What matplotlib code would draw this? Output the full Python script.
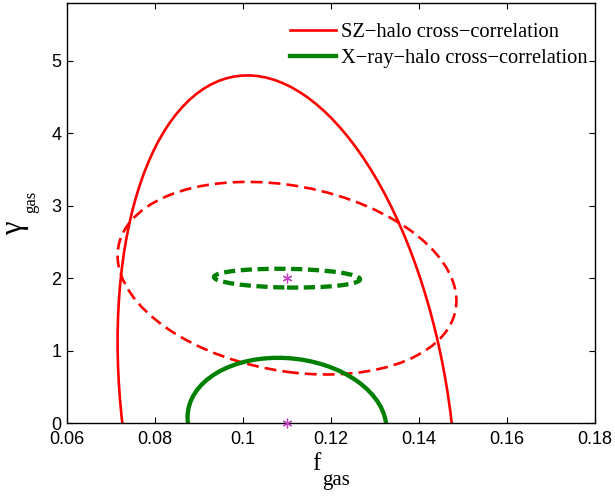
import numpy as np
import matplotlib
matplotlib.use('Agg')
import matplotlib.pyplot as plt
from matplotlib.patches import Ellipse
from matplotlib.transforms import Affine2D

# fisher ellipses: centre (f_gas, gamma_gas), sigma_f, sigma_gamma, correlation
names = ['SZ-halo cross-correlation', 'X-ray-halo cross-correlation']
cx = [0.11, 0.11, 0.11, 0.11]
cy = [0.0, 2.0, 0.0, 2.0]
sig_f = [0.0385, 0.0385, 0.0226, 0.0166]
sig_g = [4.8, 1.33, 0.9, 0.13]
rho = [-0.234, -0.234, -0.09, -0.12]
colors = ['red', 'red', 'green', 'green']
styles = ['-', '--', '-', '--']
widths = [1.9, 1.9, 3.1, 3.1]
fid_f = [0.11, 0.11]
fid_g = [2.0, 0.0]

W, H = 615, 496
fig = plt.figure(figsize=(W / 100, H / 100), dpi=100)
ax = fig.add_axes([67 / W, 1 - 423 / H, 528 / W, 420 / H])

for i in range(len(cx)):
    l00 = sig_f[i]
    l10 = rho[i] * sig_g[i]
    l11 = sig_g[i] * np.sqrt(1 - rho[i] ** 2)
    m = Affine2D(np.array([[l00, 0, cx[i]], [l10, l11, cy[i]], [0, 0, 1]]))
    e = Ellipse((0, 0), 2, 2, fill=False, edgecolor=colors[i],
                linewidth=widths[i], transform=m + ax.transData)
    if styles[i] == '--':
        if colors[i] == 'red':
            e.set_linestyle((0, (4.5, 2.3)))
        else:
            e.set_linestyle((0, (2.6, 1.3)))
    ax.add_patch(e)

ax.plot(fid_f, fid_g, linestyle='none', marker=(6, 2, 0), color='#c040c0',
        markersize=7, markeredgewidth=0.9, clip_on=False, zorder=5)

ax.plot([], [], color='red', lw=1.9, label=names[0].replace('-', '\u2212'))
ax.plot([], [], color='green', lw=3.1, label=names[1].replace('-', '\u2212'))
ax.legend(loc='upper right', frameon=False, prop={'family': 'Liberation Serif', 'size': 14.8},
          handlelength=2.25, handletextpad=0.25, labelspacing=0.3,
          borderpad=0.2, borderaxespad=0.15, bbox_to_anchor=(1.0, 0.97))

ax.set_xlim(0.06, 0.18)
ax.set_ylim(0, 5.8)
ax.set_xticks([0.06, 0.08, 0.1, 0.12, 0.14, 0.16, 0.18])
ax.set_xticklabels(['0.06', '0.08', '0.1', '0.12', '0.14', '0.16', '0.18'])
ax.set_yticks([0, 1, 2, 3, 4, 5])
ax.tick_params(direction='in', top=True, right=True, length=4, width=0.8,
               labelsize=13, pad=6)
ax.tick_params(axis='y', pad=4)
for lab in ax.get_xticklabels() + ax.get_yticklabels():
    lab.set_family('Liberation Sans')
for s in ax.spines.values():
    s.set_linewidth(1.0)

# axis labels drawn piecewise to get the low-hanging subscripts
serif = 'Liberation Serif'
fig.text(312 / W, 1 - 470 / H, 'f', family=serif, fontsize=18, ha='left', va='baseline')
fig.text(322 / W, 1 - 485 / H, 'gas', family=serif, fontsize=15, ha='left', va='baseline')
fig.text(22 / W, 1 - 235 / H, '\u03b3', family=serif, fontsize=22, rotation=90,
         rotation_mode='anchor', ha='left', va='baseline')
fig.text(35 / W, 1 - 213 / H, 'gas', family=serif, fontsize=12, rotation=90,
         rotation_mode='anchor', ha='left', va='baseline')

fig.savefig('out.png', dpi=100)
